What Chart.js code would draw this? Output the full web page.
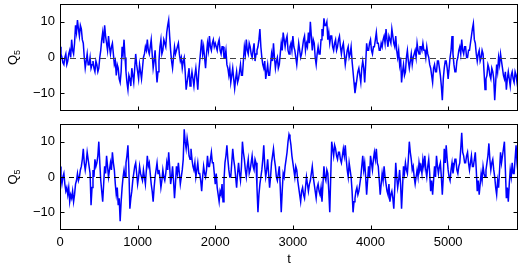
<!DOCTYPE html>
<html><head><meta charset="utf-8">
<script src="https://cdn.jsdelivr.net/npm/chart.js@4"></script>
<style>
html,body{margin:0;padding:0;background:#fff;overflow:hidden;width:524px;height:267px}
#c1{position:absolute;left:0;top:0}
#c2{position:absolute;left:0;top:118px}
</style></head><body>
<canvas id="c1" width="524" height="118"></canvas>
<canvas id="c2" width="524" height="149"></canvas>
<script>
// ---- data ----
const timeStep = 12.5;                     // spacing of samples along t
const xTickValues = [0, 1000, 2000, 3000, 4000, 5000];
const yTickValues = [-10, 0, 10];
const xRange = [0, 5900];
const yRange = [-15, 15];
const yLabelMain = 'Q', yLabelSub = '5', xLabel = 't';

const seriesTop = [
 3,1, 0,-1.5, -2,0, 1,-2, -1,1, 2,0, 5,2, 1,4, 9,7, 10.5,8, 6,9, 8,5, 4,0, -3,-1, 1,-2, -2,0,
 -3,-2, -1,-3, -4,-1, -2,-4, -3,0, 2,5, 7,4, 9,6, 4,2, 6,3, 1,3, 4,1, -2,-1, -5,-2, -3,-6, -7,-4,
 3,1, 5,0, -4,-7, -9,-5, -6,-8, -3,-5, -7,-3, 1,-2, -4,-6, -2,-4, -6,-3, 0,1, 3,2, 5,2, 1,3, 5,1,
 -3,-1, 2,-3, -7,-4, -1,3, 5,1, 2,5, 4,3, 7,9, 10.5,6, 2,-1, -3,0, 3,1, 2,3, 4,1, -1,0, -3,-1,
 0,-4, -9,-7, -5,-3, -8,-6, -4,-6, -8,-5, -3,-6, -9,-4, -1,2, 5,1, 3,0, -3,1, 4,2, 6,3, 2,4, 5,3,
 4,3, 2,4, 5,2, 1,3, 3,0, 0,2, -2,-3, -5,-3, -7,-5, -3,-6, -8.7,-6, -4,-7, -6,-4, -2,-5, -5,-1, 3,1,
 5,2, 1,4, 3,1, 0,2, 4,-1, 1,2, 3,5, 8,3, 0,-2, -3,-1, -6,-4, -2,-5, -5,-2, 1,-1, 4,0, -3,-1,
 0,-3, -2,1, 4,2, 7,5, 3,5, 6,2, 1,3, 4,2, 6,3, 2,0, -2,1, 4,2, 0,1, 3,5, 6,2, 4,3,
 7,4, 10,6, 2,5, 4,0, -2,1, 3,1, 1,5, 8,6, 11,9, 9,10, 5,7, 4,6, 6,3, 2,4, 5,2, 3,5,
 6,3, 1,3, 4,1, -2,0, 2,3, 0,1, 3,-1, -4,-7, -10,-8, -6,-4, -3,-5, -7,-3, -1,-3, -7,-2, 4,2, 2,4,
 5,2, 1,3, 3,5, 7,4, 4,2, 2,4, 3,5, 6,4, 8,5, 3,6, 5,4, 8,6, 4,3, 6,2, 0,2, -2,0,
 -7,-4, -2,-5, -4,0, 2,-1, -3,-1, 1,-2, 0,1, 2,0, 4,2, 1,3, 3,2, 4,2, 2,0, 3,1, 0,-2, -3,-5,
 -7,-3, -2,-4, -4,-1, -1,-3, -5,-8, -12,-6, -3,-1, -1,-3, -6,-3, 0,2, 6,1, -2,-4, -4,-1, 0,2, 3,1, 5,2,
 1,3, 3,0, 0,2, 2,4, 6,8, 9.5,5, 4,1, -1,1, 2,-1, 0,2, 1,-4, -9,-6, -5,-2, -3,-5, -6,-3, -4,-6,
 -12,-7, -2,-4, 0,-2, 1,-1, -3,-5, -6,-4, -9,-6, -4,-6, -8,-5, -4,-6, -7,-4, -5,-7, -3
];
const seriesBottom = [
 3,0, -2,0, 1,-2, -4,-3, -5,-3, -7,-5, -6,-4, -7,-5, -2,-1, 1,-1, 0,2, 3,5, 8,4, 2,4, 7,5, 3,1,
 -8,-3, 2,0, 5,3, 4,6, 10,4, -1,-4, -7,-2, 3,1, 6,3, 0,2, 4,2, 7,4, 2,-2, -5,-3, -8,-6, -12.5,-7,
 -3,0, 2,0, 4,6, 9,2, -9,-6, -4,-1, 1,3, 4,1, -2,0, 3,1, 0,-1, 2,0, -2,2, 6,3, 4,1, -2,-4,
 -7,-3, 0,2, 4,1, 2,0, -3,-1, 2,0, -1,1, 4,2, 7,3, -2,0, 3,-1, -6,-2, 3,1, 4,1, -2,0, 2,5,
 13.5,10, 8,11, 9,6, 5,8, 5,3, 2,4, 0,2, 4,1, 1,-1, -4,0, 3,1, 0,2, 6,3, 3,5, 7,4, 4,1,
 -2,1, -3,-5, -7,-4, -5,-2, -7,-1, 4,6, 9,5, 2,0, 0,4, 8,5, 3,0, -3,1, 4,1, -1,3, 10,7, 5,2,
 0,3, 5,1, 2,4, 6,3, 2,5, 4,-3, -10,-5, -2,0, 2,5, 9,3, 0,2, 5,1, -3,0, 4,6, 8,5, 3,0,
 -1,1, 3,-3, -10,-4, 1,0, 3,5, 7,10, 12,11, 9,6, 4,2, 0,3, 2,-1, -3,-5, -7,-4, -3,-5, -6,-3, 0,-2,
 -4,-2, -1,1, 3,0, -2,-4, -6,-3, -2,-4, -5,-3, -7,-2, 3,0, -1,2, 1,-4, -10,0, 10,8, 6,9, 8,6, 5,7,
 7,5, 4,6, 8,6, 9,5, 2,0, 4,2, 0,-4, -10,-7, -6,-4, -3,-5, -4,-2, 0,3, 6,2, 4,0, -5,-1, 3,0,
 6,4, 2,5, 7,5, 8,4, 3,-1, -5,-2, 1,-1, 3,0, -2,-4, -5,-2, -7,-5, -4,-6, -9,-3, 4,0, -3,-1, 2,-2,
 -9,-3, 3,1, 4,2, 1,5, 10,7, 5,2, 3,0, -2,0, 2,0, 4,2, 3,1, 5,3, 6,2, 0,3, 5,1, -4,-1,
 -5,-1, 3,0, 6,3, 1,3, 4,0, -5,0, 8,4, 9,5, 2,0, -1,2, 4,1, 3,5, 5,2, 1,3, 4,8, 12.5,7,
 6,4, 4,6, 7,4, 2,4, 6,3, 3,5, 7,2, -4,-1, -5,-2, 1,-1, 3,1, 0,2, 4,6, 9.5,5, 2,4, 5,2,
 0,-3, -5,-1, -3,2, 7,4, 6,8, 10,2, -6,-3, -7,-2, 2,0, 4,1, 1,5, 9,4, 1
];

// ---- rendering ----
const FONT = '"Liberation Sans", Arial, Helvetica, sans-serif';
const toPoints = arr => arr.map((v, i) => ({x: i * timeStep, y: v}));

const framePlugin = {
  id: 'frame',
  afterDatasetsDraw(chart, args, opts) {
    const {ctx, chartArea: a, scales} = chart;
    const xs = scales.x, ys = scales.y;
    ctx.save();
    // dashed zero line
    const y0 = Math.round(ys.getPixelForValue(0)) + 0.5;
    ctx.strokeStyle = opts.zeroColor;
    ctx.lineWidth = 1;
    ctx.setLineDash(opts.dash);
    ctx.beginPath(); ctx.moveTo(a.left, y0); ctx.lineTo(a.right, y0); ctx.stroke();
    ctx.setLineDash([]);
    // box
    ctx.strokeStyle = '#000';
    ctx.lineWidth = 1;
    const L = Math.round(a.left) + 0.5, R = Math.round(a.right) - 0.5;
    const T = Math.round(a.top) + 0.5, B = Math.round(a.bottom) - 0.5;
    ctx.strokeRect(L, T, R - L, B - T);
    // inward ticks
    const tl = 4;
    ctx.beginPath();
    xTickValues.forEach(v => {
      const px = Math.round(xs.getPixelForValue(v)) + 0.5;
      ctx.moveTo(px, B); ctx.lineTo(px, B - tl);
      ctx.moveTo(px, T); ctx.lineTo(px, T + tl);
    });
    yTickValues.forEach(v => {
      const py = Math.round(ys.getPixelForValue(v)) + 0.5;
      ctx.moveTo(L, py); ctx.lineTo(L + tl, py);
      ctx.moveTo(R, py); ctx.lineTo(R - tl, py);
    });
    ctx.stroke();
    // y label with subscript
    const cy = (a.top + a.bottom) / 2;
    ctx.translate(17, cy);
    ctx.rotate(-Math.PI / 2);
    ctx.fillStyle = '#000';
    ctx.font = '13px ' + FONT;
    const wQ = ctx.measureText(yLabelMain).width;
    ctx.font = '9px ' + FONT;
    const w5 = ctx.measureText(yLabelSub).width;
    const x0 = -(wQ + w5) / 2;
    ctx.textBaseline = 'alphabetic';
    ctx.font = '13px ' + FONT;
    ctx.fillText(yLabelMain, x0, 0);
    ctx.font = '9px ' + FONT;
    ctx.fillText(yLabelSub, x0 + wQ, 3);
    ctx.restore();
  }
};

function makeChart(id, values, showX, padding, zeroColor, dash) {
  return new Chart(document.getElementById(id), {
    type: 'line',
    data: {datasets: [{
      data: toPoints(values),
      borderColor: '#0000ff',
      borderWidth: 1.5,
      pointRadius: 0,
      tension: 0,
      fill: false
    }]},
    options: {
      responsive: false,
      animation: false,
      devicePixelRatio: 1,
      layout: {padding},
      plugins: {
        legend: {display: false},
        tooltip: {enabled: false},
        frame: {zeroColor, dash}
      },
      scales: {
        x: {
          type: 'linear',
          min: xRange[0], max: xRange[1],
          display: showX,
          afterBuildTicks: s => { s.ticks = xTickValues.map(v => ({value: v})); },
          afterFit: s => { if (showX) s.height = 37; s.paddingLeft = 0; s.paddingRight = 0; },
          grid: {display: false, drawTicks: false},
          border: {display: false},
          ticks: {color: '#000', font: {family: FONT, size: 13}, padding: 5, maxRotation: 0,
                  callback: v => String(v)},
          title: {display: showX, text: xLabel, color: '#000', font: {family: FONT, size: 13}, padding: {top: 0, bottom: 0}}
        },
        y: {
          type: 'linear',
          min: yRange[0], max: yRange[1],
          afterBuildTicks: s => { s.ticks = yTickValues.map(v => ({value: v})); },
          afterFit: s => { s.width = 60; s.paddingTop = 0; s.paddingBottom = 0; },
          grid: {display: false, drawTicks: false},
          border: {display: false},
          ticks: {color: '#000', font: {family: FONT, size: 13}, padding: 5,
                  callback: v => String(v).replace('-', '\u2212')}
        }
      }
    },
    plugins: [framePlugin]
  });
}

makeChart('c1', seriesTop, false, {left: 0, right: 6, top: 4, bottom: 7}, '#444', [6, 4]);
makeChart('c2', seriesBottom, true, {left: 0, right: 6, top: 6, bottom: 0}, '#000', [5, 4]);
</script>
</body></html>
